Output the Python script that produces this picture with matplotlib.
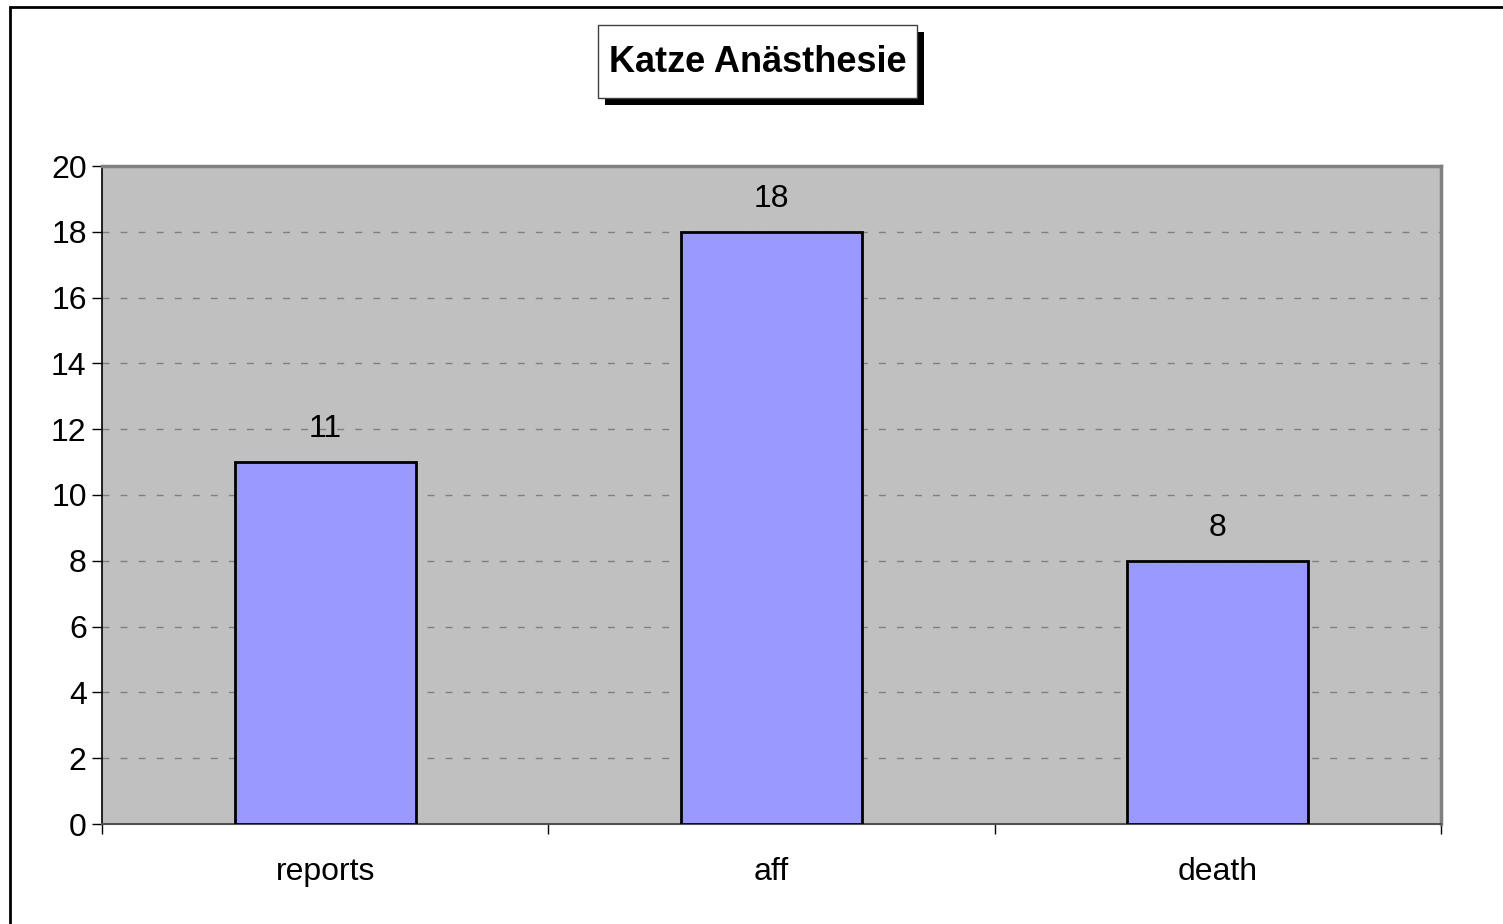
import matplotlib
matplotlib.use("Agg")
import matplotlib.pyplot as plt
from matplotlib.patches import Rectangle
import numpy as np

categories = ["reports", "aff", "death"]
values = [11, 18, 8]
yticks = [0, 2, 4, 6, 8, 10, 12, 14, 16, 18, 20]
title = "Katze Anästhesie"

plt.rcParams['font.family'] = ['Liberation Sans', 'DejaVu Sans']

W, H = 1503, 924
fig = plt.figure(figsize=(W/100, H/100), dpi=100)
fig.patch.set_facecolor("white")

# outer chart border (cropped at right/bottom)
fig.add_artist(Rectangle((10/W, -0.1), 1.2, 1 - 7/H + 0.1, transform=fig.transFigure,
                         fill=False, edgecolor="black", linewidth=2))

ax = fig.add_axes([102/W, 1 - 824/H, (1441-102)/W, (824-166)/H])
ax.set_facecolor("#C0C0C0")
x = np.arange(len(categories))
ax.bar(x, values, width=0.405, color="#9999FF", edgecolor="black", linewidth=2, zorder=3)
for xi, v in zip(x, values):
    ax.annotate(str(v), (xi, v), xytext=(0, 23.5), textcoords="offset points",
                ha="center", va="center", fontsize=23)

ax.set_xlim(-0.5, len(categories) - 0.5)
ax.set_ylim(0, 20)
ax.set_yticks(yticks)
ax.set_yticklabels([str(t) for t in yticks], fontsize=23)
ax.yaxis.grid(True, color="#808080", linestyle=(0, (5, 8)), linewidth=1, zorder=0)
ax.set_axisbelow(True)

ax.set_xticks(np.arange(-0.5, len(categories), 1.0))
ax.set_xticklabels([])
ax.set_xticks(x, minor=True)
ax.set_xticklabels(categories, minor=True, fontsize=23)
ax.tick_params(axis="x", which="minor", length=0, pad=24)
ax.tick_params(axis="x", which="major", length=7, width=1, color="black", direction="out")
ax.tick_params(axis="y", length=7, width=1, color="black", direction="out", pad=4)

for s in ["top", "right"]:
    ax.spines[s].set_color("#808080")
    ax.spines[s].set_linewidth(2.5)
ax.spines["left"].set_color("black")
ax.spines["left"].set_linewidth(1.2)
ax.spines["bottom"].set_color("#505050")
ax.spines["bottom"].set_linewidth(1.5)

# title with box and shadow
bx0, by0, bx1, by1 = 598, 25, 917, 98
fig.add_artist(Rectangle(((bx0+7)/W, 1 - (by1+7)/H), (bx1-bx0)/W, (by1-by0)/H,
                         transform=fig.transFigure, facecolor="black", edgecolor="none", zorder=5))
fig.add_artist(Rectangle((bx0/W, 1 - by1/H), (bx1-bx0)/W, (by1-by0)/H,
                         transform=fig.transFigure, facecolor="white", edgecolor="#404040",
                         linewidth=1, zorder=6))
fig.text((bx0+bx1)/2/W, 1 - 62/H, title, ha="center", va="center", fontsize=26,
         fontweight="bold", zorder=7)

fig.savefig("out.png", dpi=100)
